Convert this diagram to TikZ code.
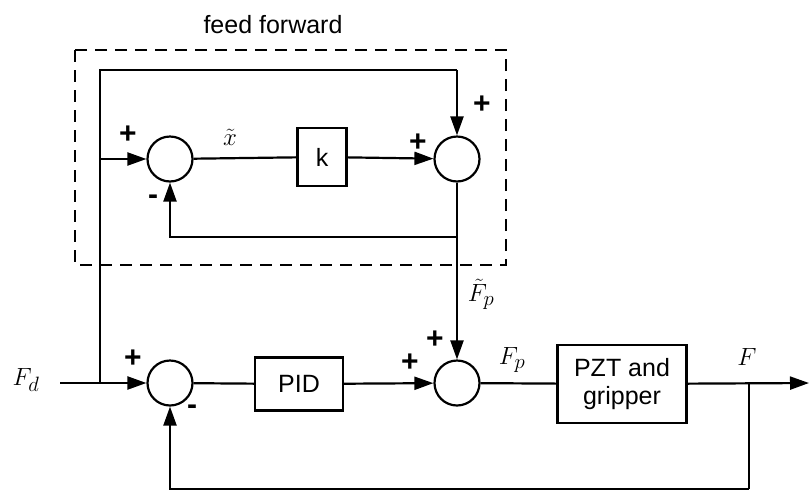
\documentclass[tikz,border=0pt]{standalone}
\usepackage{fontspec}
\setmainfont{Liberation Sans}
\usetikzlibrary{arrows.meta}
\tikzset{
  sumc/.style={draw,circle,line width=2.2pt,minimum size=45pt,inner sep=0pt},
  blk/.style={draw,rectangle,line width=2.2pt,font=\fontsize{25}{28}\selectfont,align=center,inner sep=0pt},
  sgn/.style={font=\bfseries\fontsize{30}{30}\selectfont,inner sep=0pt},
  lbl/.style={font=\fontsize{28}{28}\selectfont,inner sep=0pt},
  wire/.style={line width=2.2pt},
  arr/.style={line width=2.2pt,-{Triangle[length=19pt,width=13pt]}},
}
\begin{document}
\begin{tikzpicture}[x=1pt,y=-1pt]
  \useasboundingbox (0,0) rectangle (809,491);
  % feed forward part
  \draw[line width=2.2pt,dash pattern=on 12pt off 8pt] (75,50) rectangle (506,265);
  \node[font=\fontsize{25}{25}\selectfont] (fftxt) at (273,25) {feed forward};
  \node[sumc] (s1) at (170,159) {};
  \node[blk,minimum width=49pt,minimum height=58pt] (k) at (322,157) {k};
  \node[sumc] (s2) at (457,159) {};
  % main loop
  \node[sumc] (s3) at (170,383) {};
  \node[blk,minimum width=88pt,minimum height=53pt] (pid) at (299,384) {PID};
  \node[sumc] (s4) at (457,383) {};
  \node[blk,minimum width=129pt,minimum height=78pt] (pzt) at (622,384) {PZT and\\gripper};
  \coordinate (in) at (60,383);
  \coordinate (fork) at (100,383);
  \coordinate (fork2) at (100,159);
  \coordinate (top) at (457,70);
  \coordinate (fb2) at (457,237);
  \coordinate (fb1) at (749,383);
  \coordinate (fbb) at (749,489);
  \coordinate (out) at (809,383);
  % connectors
  \draw[arr] (in) -- (s3);
  \draw[wire] (fork) |- (top);
  \draw[arr] (top) -- (s2);
  \draw[arr] (fork2) -- (s1);
  \draw[wire] (s1) -- (k);
  \draw[arr] (k) -- (s2);
  \draw[arr] (s2) -- (s4);
  \draw[arr] (fb2) -| (s1);
  \draw[wire] (s3) -- (pid);
  \draw[arr] (pid) -- (s4);
  \draw[wire] (s4) -- (pzt);
  \draw[arr] (pzt) -- (out);
  \draw[wire] (fb1) -- (fbb);
  \draw[arr] (fbb) -| (s3);
  % signs
  \node[sgn] (p1) at (128,135) {+};
  \node[sgn] (m1) at (153,200) {-};
  \node[sgn] (p2) at (418,143) {+};
  \node[sgn] (p3) at (482,105) {+};
  \node[sgn] (p4) at (133,359) {+};
  \node[sgn] (m2) at (192,410) {-};
  \node[sgn] (p5) at (410,363) {+};
  \node[sgn] (p6) at (435,340) {+};
  % signal labels
  \node[lbl] (xt) at (230,137) {$\tilde{x}$};
  \node[lbl] (fpt) at (481,294) {$\tilde{F}_p$};
  \node[lbl] (fp) at (512,360) {$F_p$};
  \node[lbl] (f) at (747,357) {$F$};
  \node[lbl] (fd) at (26,380) {$F_d$};
\end{tikzpicture}
\end{document}
